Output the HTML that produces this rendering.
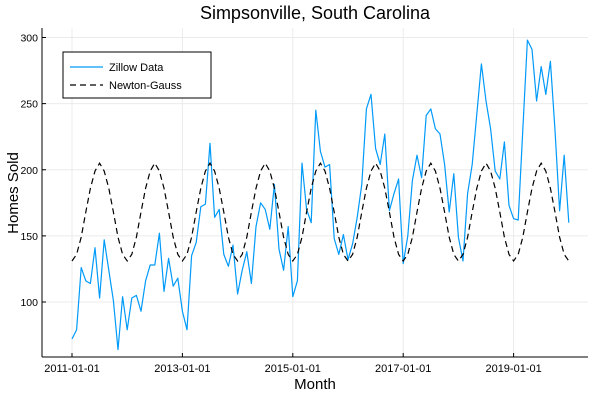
<!DOCTYPE html>
<html><head><meta charset="utf-8"><style>
html,body{margin:0;padding:0;background:#fff;}
svg{display:block;font-family:"Liberation Sans",sans-serif;}
</style></head><body>
<svg id="chart" width="600" height="400">
<text x="315" y="19" text-anchor="middle" font-size="18">Simpsonville, South Carolina</text>
<text x="315" y="389" text-anchor="middle" font-size="15">Month</text>
<text transform="translate(18,193) rotate(-90)" text-anchor="middle" font-size="15">Homes Sold</text>
<g id="grid"></g><g id="ticks"></g>
<line x1="42" y1="357" x2="588" y2="357" stroke="#000"/>
<line x1="42" y1="28" x2="42" y2="357" stroke="#000"/>
<g id="series"></g>
<g>
<rect x="63" y="52" width="148" height="46" fill="#fff" stroke="#000" stroke-width="1"/>
<line x1="70" y1="67" x2="103" y2="67" stroke="#009af9" stroke-width="1.2"/>
<text x="109" y="71" font-size="11">Zillow Data</text>
<line x1="70" y1="85" x2="103" y2="85" stroke="#000" stroke-width="1.2" stroke-dasharray="6,4"/>
<text x="109" y="89" font-size="11">Newton-Gauss</text>
</g>
</svg>
<script>
const startYear = 2011;
const zillow = [
72,79,126,116,114,141,103,147,124,101,64,104,
79,103,105,93,116,128,128,152,108,133,112,118,
93,79,135,145,172,174,220,164,170,136,127,143,
106,124,138,114,157,175,170,155,189,140,124,157,
104,116,205,170,160,245,214,202,204,148,136,151,
132,144,164,189,246,257,216,204,227,169,182,193,
129,150,192,211,194,241,246,231,227,204,168,197,
149,131,182,204,242,280,252,231,199,193,221,173,
163,162,230,298,291,252,278,257,282,230,169,211,
160];
const seasonalFit = [131,136,149,168,186,199,205,199,186,168,149,136];
const fitYears = 10;
const yTicks = [100,150,200,250,300];
const xTickLabels = ["2011-01-01","2013-01-01","2015-01-01","2017-01-01","2019-01-01"];
const xTickMonths = [0,24,48,72,96];

const NS="http://www.w3.org/2000/svg";
const xs = m => 72 + m*4.6;
const ys = v => 302 - (v-100)*1.3225;
function mk(tag, attrs, parent){const e=document.createElementNS(NS,tag);for(const k in attrs)e.setAttribute(k,attrs[k]);parent.appendChild(e);return e;}
const grid=document.getElementById('grid'), ticks=document.getElementById('ticks'), series=document.getElementById('series');
yTicks.forEach(v=>{
  const g=mk('line',{x1:42,x2:588,y1:ys(v),y2:ys(v),stroke:'#ebebeb','stroke-width':1},grid);
  
  
  mk('line',{x1:42,x2:46,y1:ys(v),y2:ys(v),stroke:'#000'},ticks);
  const t=mk('text',{x:38,y:ys(v)+4,'text-anchor':'end','font-size':10.5},ticks);
  t.textContent=v;
  
  
});
xTickMonths.forEach((m,i)=>{
  const g=mk('line',{x1:xs(m),x2:xs(m),y1:28,y2:357,stroke:'#ebebeb','stroke-width':1},grid);
  
  
  mk('line',{x1:xs(m),x2:xs(m),y1:353,y2:357,stroke:'#000'},ticks);
  const t=mk('text',{x:xs(m),y:372,'text-anchor':'middle','font-size':11},ticks);
  t.textContent=xTickLabels[i];
  
  
});
const fit=[];
for(let y=0;y<fitYears;y++)seasonalFit.forEach(v=>fit.push(v));
fit.length = zillow.length;
const zl=mk('polyline',{points:zillow.map((v,i)=>xs(i)+','+ys(v)).join(' '),fill:'none',stroke:'#009af9','stroke-width':1.2,'stroke-linejoin':'round'},series);


const fl=mk('polyline',{points:fit.map((v,i)=>xs(i)+','+ys(v)).join(' '),fill:'none',stroke:'#000','stroke-width':1.2,'stroke-dasharray':'6,4'},series);


</script>
</body></html>
